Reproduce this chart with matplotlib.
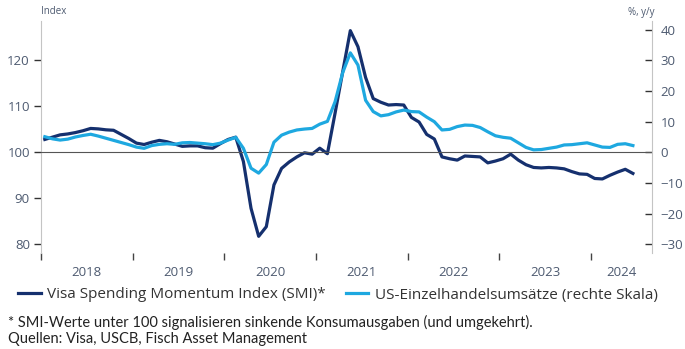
import matplotlib
matplotlib.use("Agg")
import matplotlib.pyplot as plt
from matplotlib.lines import Line2D
import numpy as np

# monthly series, Jan 2018 .. Jun 2024
start_year = 2018
smi = [
    102.8, 103.3, 103.8, 104.0, 104.3, 104.7, 105.2, 105.1, 104.9, 104.8, 103.9, 103.0,
    102.0, 101.7, 102.2, 102.6, 102.3, 101.8, 101.3, 101.4, 101.4, 101.0, 100.9, 101.9,
    102.8, 103.3, 98.0, 87.8, 81.7, 83.8, 92.9, 96.5, 97.9, 99.0, 99.9, 99.6,
    100.9, 99.7, 108.5, 117.5, 126.5, 123.0, 116.3, 111.7, 110.9, 110.3, 110.4, 110.3,
    107.6, 106.6, 103.9, 102.9, 99.0, 98.6, 98.3, 99.2, 99.1, 99.0, 97.7, 98.1,
    98.6, 99.6, 98.3, 97.3, 96.7, 96.6, 96.7, 96.6, 96.4, 95.8, 95.3, 95.2,
    94.3, 94.2, 95.0, 95.7, 96.3, 95.4,
]
retail = [
    5.1, 4.4, 4.0, 4.3, 5.0, 5.5, 5.9, 5.3, 4.6, 3.9, 3.2, 2.5,
    1.7, 1.3, 2.2, 2.6, 2.8, 2.6, 3.1, 3.2, 3.0, 2.8, 2.5, 3.0,
    4.0, 4.9, 1.3, -5.2, -6.8, -4.0, 3.3, 5.6, 6.6, 7.3, 7.6, 7.8,
    9.2, 10.1, 16.5, 26.0, 32.5, 28.5, 17.0, 13.3, 11.9, 12.3, 13.2, 13.8,
    13.3, 13.2, 11.5, 10.0, 7.3, 7.5, 8.4, 8.9, 8.8, 8.1, 6.7, 5.4,
    4.9, 4.6, 3.1, 1.6, 0.8, 0.9, 1.3, 1.7, 2.4, 2.5, 2.8, 3.1,
    2.4, 1.7, 1.6, 2.6, 2.8, 2.2,
]
years = [2018, 2019, 2020, 2021, 2022, 2023, 2024]
left_ticks = [80, 90, 100, 110, 120]
right_ticks = [-30, -20, -10, 0, 10, 20, 30, 40]

label_smi = "Visa Spending Momentum Index (SMI)*"
label_retail = "US-Einzelhandelsumsätze (rechte Skala)"
note = "* SMI-Werte unter 100 signalisieren sinkende Konsumausgaben (und umgekehrt)."
source = "Quellen: Visa, USCB, Fisch Asset Management"

navy = "#15306e"
sky = "#1ea8e0"
txt = "#4d5a70"
axis_grey = "#c4c4c4"

plt.rcParams["font.family"] = ["Open Sans", "DejaVu Sans"]

x = start_year + (np.arange(len(smi)) + 0.5) / 12.0
x_end = 2024 + 8 / 12.0

fig = plt.figure(figsize=(6.85, 3.49), dpi=100)
ax = fig.add_axes([41 / 685, 1 - 253 / 349, 611 / 685, 232 / 349])
ax2 = ax.twinx()

ax.plot(x, smi, color=navy, lw=2.3, solid_joinstyle="round", zorder=3)
ax2.plot(x, retail, color=sky, lw=2.3, solid_joinstyle="round", zorder=3)
ax2.axhline(0, color="#555555", lw=0.8, zorder=2)

ax.set_xlim(start_year, x_end)
ax.set_ylim(78.07, 128.6)
ax2.set_ylim(-32.9, 42.9)

for a in (ax, ax2):
    for s in ("top", "bottom"):
        a.spines[s].set_visible(False)
    a.spines["left"].set_color(axis_grey)
    a.spines["right"].set_color(axis_grey)
ax.spines["right"].set_visible(False)
ax2.spines["left"].set_visible(False)

ax.set_yticks(left_ticks)
ax.tick_params(axis="y", direction="out", length=5, width=1, color="#333333",
               labelsize=9.5, labelcolor=txt, pad=3)
ax2.set_yticks(right_ticks)
ax2.tick_params(axis="y", direction="in", length=5, width=1, color="#333333",
                labelsize=9.5, labelcolor=txt, pad=6)

# year boundaries as ticks, year names centred between them
ax.set_xticks(years)
ax.set_xticklabels([])
ax.tick_params(axis="x", which="major", direction="out", length=5, width=1, color="#444444")
centres = [y + 0.5 for y in years[:-1]] + [(years[-1] + x_end) / 2]
ax.set_xticks(centres, minor=True)
ax.set_xticklabels([str(y) for y in years], minor=True)
ax.tick_params(axis="x", which="minor", length=0, labelsize=9.5, labelcolor=txt, pad=9)

fig.text(41 / 685, 1 - 12 / 349, "Index", fontsize=7, color=txt, va="center", ha="left")
fig.text(654 / 685, 1 - 13 / 349, "%, y/y", fontsize=7, color=txt, va="center", ha="right")

handles = [Line2D([], [], color=navy, lw=2.3), Line2D([], [], color=sky, lw=2.3)]
fig.legend(handles, [label_smi, label_retail], loc="center left",
           bbox_to_anchor=(18 / 685, 1 - 295 / 349), ncol=2, frameon=False,
           fontsize=11, labelcolor="#333333", handlelength=1.5, handletextpad=0.4,
           columnspacing=1.3, borderaxespad=0, borderpad=0)

fig.text(8 / 685, 1 - 322 / 349, note, fontsize=10.5, color="#222222", va="center",
         family=["Lato", "DejaVu Sans"])
fig.text(8 / 685, 1 - 339 / 349, source, fontsize=10.5, color="#222222", va="center",
         family=["Lato", "DejaVu Sans"])

fig.savefig("out.png", dpi=100)
